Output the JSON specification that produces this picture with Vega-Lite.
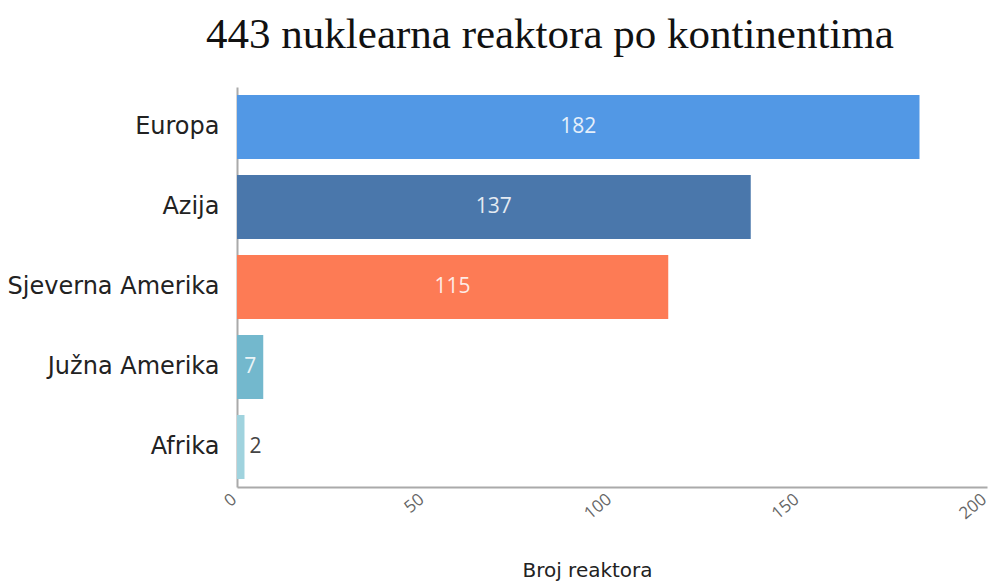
{
  "$schema": "https://vega.github.io/schema/vega-lite/v6.json",
  "autosize": "none",
  "width": 750,
  "height": 400,
  "padding": {"left": 237, "top": 87, "right": 5, "bottom": 96},
  "background": "white",
  "title": {
    "text": "443 nuklearna reaktora po kontinentima",
    "font": "Liberation Serif",
    "fontSize": 43,
    "fontWeight": "normal",
    "color": "#111111",
    "anchor": "middle",
    "dx": -62,
    "offset": 30
  },
  "data": {
    "values": [
      {"kontinent": "Europa", "reaktori": 182},
      {"kontinent": "Azija", "reaktori": 137},
      {"kontinent": "Sjeverna Amerika", "reaktori": 115},
      {"kontinent": "Južna Amerika", "reaktori": 7},
      {"kontinent": "Afrika", "reaktori": 2}
    ]
  },
  "transform": [{"calculate": "datum.reaktori / 2", "as": "sredina"}],
  "config": {"view": {"stroke": null}},
  "encoding": {
    "y": {
      "field": "kontinent",
      "type": "nominal",
      "sort": null,
      "scale": {"paddingInner": 0.2, "paddingOuter": 0.1},
      "axis": {
        "title": null,
        "labelFont": "DejaVu Sans",
        "labelFontSize": 24,
        "labelColor": "#222222",
        "labelPadding": 18,
        "labelLimit": 300,
        "ticks": false,
        "domainColor": "#aaaaaa",
        "domainWidth": 2
      }
    }
  },
  "layer": [
    {
      "mark": {"type": "bar"},
      "encoding": {
        "x": {
          "field": "reaktori",
          "type": "quantitative",
          "scale": {"domain": [0, 200]},
          "axis": {
            "values": [0, 50, 100, 150, 200],
            "labelAngle": -40,
            "labelAlign": "right",
            "labelBaseline": "middle",
            "labelFont": "Open Sans",
            "labelFontSize": 17,
            "labelColor": "#666666",
            "labelPadding": 10,
            "labelOffset": -3,
            "ticks": false,
            "grid": false,
            "domainColor": "#aaaaaa",
            "domainWidth": 2,
            "title": "Broj reaktora",
            "titleFont": "DejaVu Sans",
            "titleFontSize": 20,
            "titleFontWeight": "normal",
            "titleColor": "#222222",
            "titleX": 350,
            "titleY": 89,
            "titleBaseline": "alphabetic"
          }
        },
        "color": {
          "field": "kontinent",
          "type": "nominal",
          "legend": null,
          "scale": {
            "domain": ["Europa", "Azija", "Sjeverna Amerika", "Južna Amerika", "Afrika"],
            "range": ["#5298e5", "#4a77ab", "#fd7b55", "#73b8cd", "#a0d3de"]
          }
        }
      }
    },
    {
      "transform": [{"filter": "datum.reaktori >= 5"}],
      "mark": {"type": "text", "font": "Open Sans", "fontSize": 21, "color": "#ffffff", "opacity": 0.85, "align": "center", "baseline": "middle"},
      "encoding": {
        "x": {"field": "sredina", "type": "quantitative"},
        "text": {"field": "reaktori", "type": "quantitative"}
      }
    },
    {
      "transform": [{"filter": "datum.reaktori < 5"}],
      "mark": {"type": "text", "font": "Open Sans", "fontSize": 21, "color": "#444444", "align": "left", "baseline": "middle", "dx": 5},
      "encoding": {
        "x": {"field": "reaktori", "type": "quantitative"},
        "text": {"field": "reaktori", "type": "quantitative"}
      }
    }
  ]
}
